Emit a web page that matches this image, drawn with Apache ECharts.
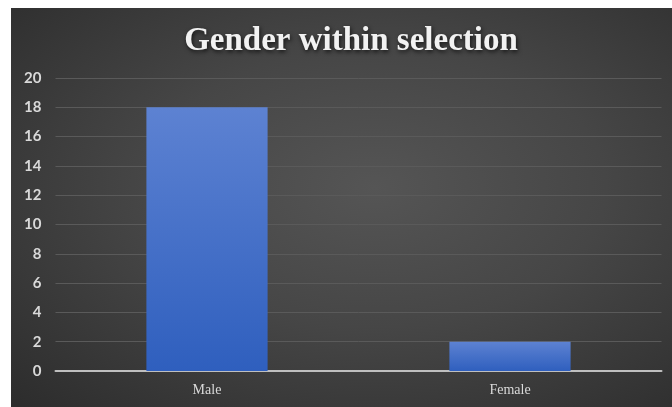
<!DOCTYPE html>
<html>
<head>
<meta charset="utf-8">
<script src="https://cdn.jsdelivr.net/npm/echarts@6/dist/echarts.min.js"></script>
<style>
  html, body { margin: 0; padding: 0; background: #fff; }
  #chart {
    position: absolute; left: 11px; top: 8px; width: 661px; height: 399px;
    background: radial-gradient(ellipse at 55% 45%, #555555 0%, #464646 45%, #2c2c2c 100%);
  }
</style>
</head>
<body>
<div id="chart"></div>
<script>
  var categories = ['Male', 'Female'];
  var counts = [18, 2];
  var titleText = 'Gender within selection';

  var chart = echarts.init(document.getElementById('chart'));
  chart.setOption({
    backgroundColor: 'transparent',
    title: {
      text: titleText,
      left: 335,
      top: 12,
      textAlign: 'center',
      textStyle: {
        color: '#f2f2f2',
        fontFamily: 'Liberation Serif',
        fontWeight: 'bold',
        fontSize: 33,
        textShadowColor: 'rgba(0,0,0,0.7)',
        textShadowBlur: 4,
        textShadowOffsetX: 1,
        textShadowOffsetY: 2
      }
    },
    grid: {
      left: 44.5,
      right: 10.5,
      top: 70,
      bottom: 36
    },
    xAxis: {
      type: 'category',
      data: categories,
      axisTick: { show: false },
      axisLine: { lineStyle: { color: '#bfbfbf', width: 2 } },
      axisLabel: {
        color: '#d9d9d9',
        fontFamily: 'Liberation Serif',
        fontSize: 14,
        margin: 12
      }
    },
    yAxis: {
      type: 'value',
      min: 0,
      max: 20,
      interval: 2,
      axisLine: { show: false },
      axisTick: { show: false },
      splitLine: { lineStyle: { color: '#5a5a5a', width: 1 } },
      axisLabel: {
        color: '#d9d9d9',
        fontFamily: 'Lato',
        fontWeight: 'bold',
        fontSize: 15,
        margin: 14
      }
    },
    series: [{
      type: 'bar',
      data: counts,
      barWidth: '40%',
      itemStyle: {
        color: new echarts.graphic.LinearGradient(0, 0, 0, 1, [
          { offset: 0, color: '#5d82d2' },
          { offset: 1, color: '#2f5fbe' }
        ])
      }
    }]
  });
</script>
</body>
</html>
